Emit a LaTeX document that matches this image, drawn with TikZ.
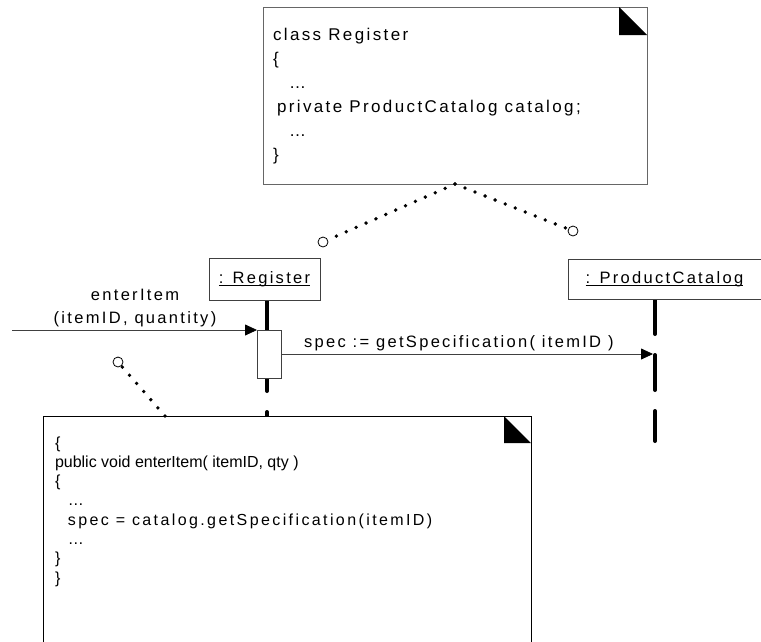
\documentclass[tikz,border=0pt]{standalone}
\usepackage{fontspec}
\setmainfont{Liberation Sans}
\newfontfamily\trackfont[LetterSpace=14]{Liberation Sans}
\newfontfamily\widefont[LetterSpace=15]{Liberation Sans}
\usetikzlibrary{arrows.meta,backgrounds}
\newcommand{\objname}[1]{\setbox0=\hbox{#1}\rlap{\rule[-3pt]{\wd0}{0.9pt}}\box0}
\begin{document}
\begin{tikzpicture}[x=1pt,y=-1pt, every node/.style={inner sep=0pt,outer sep=0pt},
  notebox/.style={draw=#1,fill=white,line width=1pt},
  objbox/.style={draw=black!75,fill=white,line width=0.9pt,font=\trackfont\fontsize{16.5}{20}\selectfont},
  actbox/.style={draw=black!75,fill=white,line width=0.9pt,minimum width=24pt,minimum height=48pt},
  lifeline/.style={line width=4pt,line cap=round,dash pattern=on 35pt off 21pt},
  msg/.style={line width=0.8pt,draw=black!75,-{Triangle[length=12pt,width=11pt,color=black]}},
  lbl/.style={font=\trackfont\fontsize{16.5}{23}\selectfont},
  dotline/.style={line width=3.8pt,line cap=round,dash pattern=on 0pt off 10.8pt},
  knob/.style={circle,draw,line width=0.8pt,minimum size=10pt,fill=white}]
\useasboundingbox (0,0) rectangle (761,641);
% the two notes
\node[notebox=black!60,minimum width=384pt,minimum height=177pt,anchor=north west] (regnote) at (263,7) {};
\fill (regnote.north east) ++(-28,0) -- ++(28,28) -- ++(-28,0) -- cycle;
\node[anchor=north west,align=left,font=\trackfont\fontsize{17}{24}\selectfont] (regcode) at (273,23.2)
  {\strut class Register\\\{\\\hspace{16pt}…\\\hspace{4pt}private ProductCatalog catalog;\\\hspace{16pt}…\\\}};
\node[objbox,minimum width=111pt,minimum height=42pt] (reg) at (264.5,279) {\objname{: Register}};
\node[objbox,minimum width=193pt,minimum height=40pt] (cat) at (664.5,279) {\objname{: ProductCatalog}};
\node[actbox] (act) at (269,354) {};
\begin{scope}[on background layer]
\draw[lifeline] ([xshift=2.5pt]reg.south) -- ++(0,150);
\draw[lifeline] ([xshift=-9.5pt]cat.south) -- ++(0,142);
\end{scope}
\node[notebox=black,minimum width=488pt,minimum height=240pt,anchor=north west] (enternote) at (43,416) {};
\fill (enternote.north east) ++(-27,0) -- ++(27,27) -- ++(-27,0) -- cycle;
\node[anchor=north west,align=left,font=\fontsize{16}{19.3}\selectfont] (entercode) at (55,434.5)
  {\strut\{\\public void enterItem( itemID, qty )\\\{\\\hspace{13pt}…\\\hspace{13pt}{\widefont spec = catalog.getSpecification(itemID)}\\\hspace{13pt}…\\\}\\\}};
% messages
\coordinate (caller) at (12,330);
\coordinate (catin) at (653,354);
\draw[msg] (caller) -- (act.north west);
\draw[msg] (act.east) -- (catin);
\node[lbl,anchor=north,align=center] (enterlbl) at (135,283.9) {\strut enterItem\\(itemID, quantity)};
\node[lbl,anchor=base west] (speclbl) at (304,347) {spec := getSpecification( itemID )};
% note links
\node[knob] (regknob) at (323,242) {};
\node[knob] (catknob) at (573,231) {};
\node[knob] (actknob) at (118,362) {};
\draw[dotline] (regnote.south) -- (regknob);
\draw[dotline] (regnote.south) -- (catknob);
\draw[dotline] ([xshift=122pt]enternote.north west) -- (actknob);
\end{tikzpicture}
\end{document}
